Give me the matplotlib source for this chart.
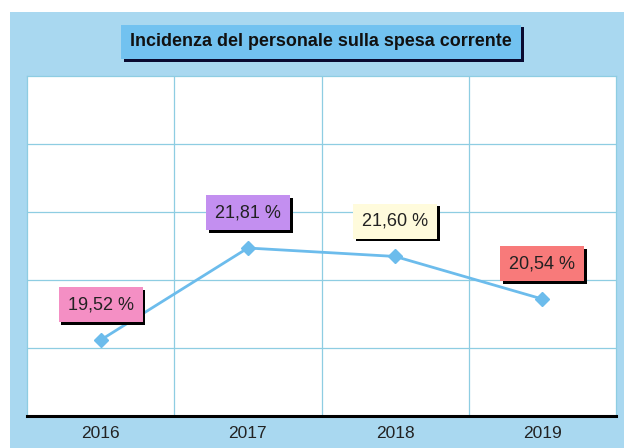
import matplotlib.pyplot as plt
import matplotlib.patheffects as pe
from matplotlib.patches import Rectangle
import numpy as np

plt.rcParams['font.family'] = ['Liberation Sans', 'DejaVu Sans']

# incidenza del personale sulla spesa corrente, per anno
anni = ['2016', '2017', '2018', '2019']
incidenza = [19.52, 21.81, 21.60, 20.54]
etichette = ['19,52 %', '21,81 %', '21,60 %', '20,54 %']
colori_box = ['#f48fc4', '#c38ff0', '#fffbdc', '#f87a7a']

fig = plt.figure(figsize=(6.24, 4.48), dpi=100)
fig.patch.set_facecolor('white')

# pannello azzurro di sfondo (dietro agli assi)
fig.add_artist(Rectangle((10 / 624, 0), 1 - 10 / 624, 1 - 12 / 448,
                         transform=fig.transFigure, facecolor='#a9d8f0',
                         edgecolor='none', zorder=-10))

ax = fig.add_axes([27 / 624, 32 / 448, 589 / 624, 340 / 448])
ax.set_facecolor('white')

x = np.arange(len(anni))
ax.set_xlim(-0.5, len(anni) - 0.5)
ymin, ymax = 17.63, 26.09
ax.set_ylim(ymin, ymax)

# griglia: 4 colonne, 5 fasce orizzontali
for xv in x[:-1] + 0.5:
    ax.axvline(xv, color='#8ecde2', lw=0.9, zorder=1)
for yv in np.linspace(ymin, ymax, 6)[1:-1]:
    ax.axhline(yv, color='#8ecde2', lw=0.9, zorder=1)

ax.plot(x, incidenza, color='#6cbcec', lw=2.0, marker='D', markersize=7,
        markeredgecolor='#6cbcec', zorder=3)

for xi, yi, lab, col in zip(x, incidenza, etichette, colori_box):
    t = ax.annotate(lab, (xi, yi), xytext=(0, 25.5), textcoords='offset points',
                    ha='center', va='center', fontsize=13, color='#222222',
                    bbox=dict(boxstyle='square,pad=0.5', facecolor=col,
                              edgecolor='none'), zorder=5)
    t.get_bbox_patch().set_path_effects([
        pe.SimplePatchShadow(offset=(2, -2), shadow_rgbFace='black', alpha=1),
        pe.Normal()])

ax.set_xticks(x)
ax.set_xticklabels(anni, fontsize=12.5, color='#222222')
ax.set_yticks([])
ax.tick_params(axis='x', length=0, pad=7)
for s in ['left', 'right', 'top']:
    ax.spines[s].set_color('#8ecde2')
    ax.spines[s].set_linewidth(0.9)
ax.spines['bottom'].set_color('black')
ax.spines['bottom'].set_linewidth(2.2)

titolo = fig.text(321 / 624, 1 - 42 / 448,
                  'Incidenza del personale sulla spesa corrente',
                  ha='center', va='center', fontsize=12.9, fontweight='bold',
                  color='#111111',
                  bbox=dict(boxstyle='square,pad=0.5', facecolor='#72c2f0',
                            edgecolor='none'))
titolo.get_bbox_patch().set_path_effects([
    pe.SimplePatchShadow(offset=(2, -2), shadow_rgbFace='#0a0a30', alpha=1),
    pe.Normal()])

fig.savefig('out.png', dpi=100)
